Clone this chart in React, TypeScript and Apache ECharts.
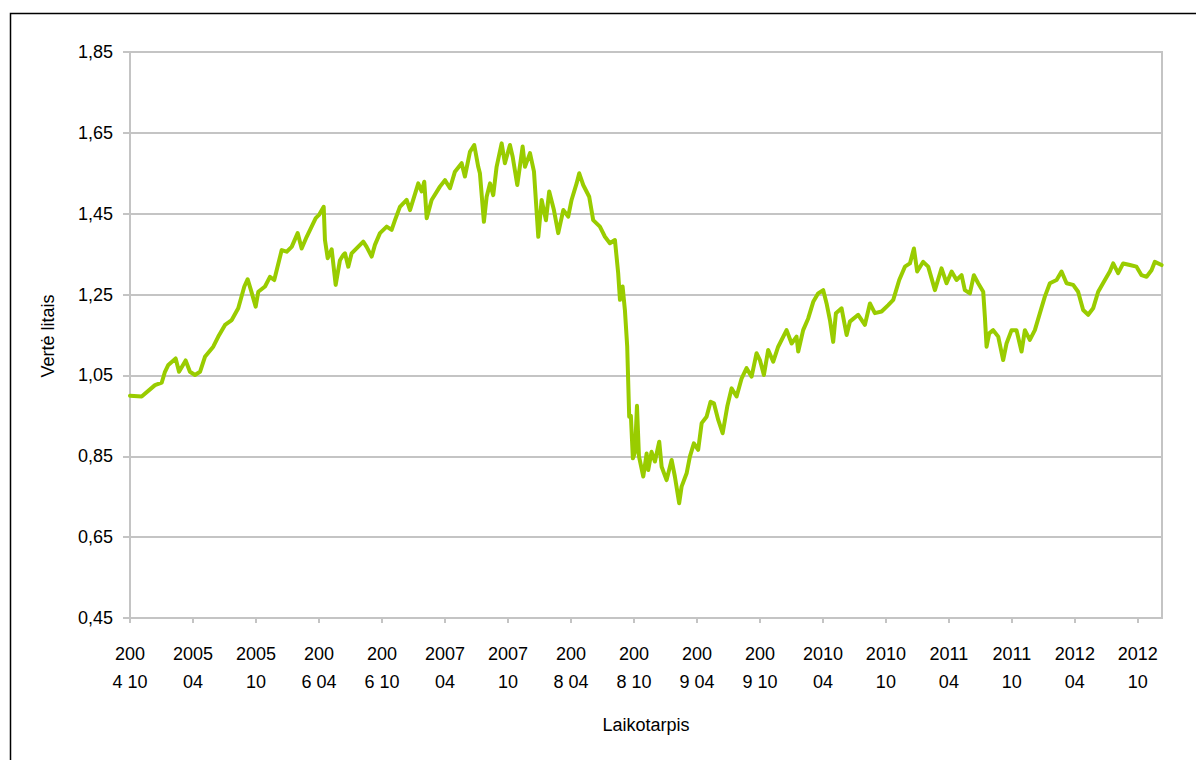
import React, { useEffect, useRef } from "react";
import * as echarts from "echarts";

// Months elapsed since 2004-10 (x position) and fund value in litas
const monthOffsets: number[] = [
  0, 1.11, 2.38, 3.02, 3.33, 3.65, 4.35, 4.67, 5.3, 5.71, 6.19, 6.67, 7.14, 7.93, 8.41, 9.05, 9.69, 10.31,
  10.89, 11.21, 11.52, 11.97, 12.22, 12.86, 13.33, 13.74, 14.45, 14.92, 15.4, 15.97, 16.35, 16.83, 17.3,
  17.69, 18.0, 18.45, 18.57, 18.83, 19.21, 19.59, 20.0, 20.31, 20.48, 20.79, 21.11, 22.22, 22.54, 23.02,
  23.33, 23.81, 24.45, 24.92, 25.24, 25.71, 26.35, 26.67, 27.46, 27.78, 28.03, 28.26, 28.73, 29.52, 30.0,
  30.48, 30.95, 31.59, 31.9, 32.38, 32.79, 33.17, 33.33, 33.71, 33.97, 34.29, 34.6, 34.92, 35.4, 35.71,
  36.19, 36.45, 36.89, 37.4, 37.62, 38.1, 38.48, 38.89, 39.21, 39.62, 39.93, 40.38, 40.79, 41.27, 41.74,
  42.06, 42.54, 42.79, 43.17, 43.74, 44.12, 44.76, 45.24, 45.71, 46.19, 46.5, 46.67, 46.92, 47.14, 47.36,
  47.55, 47.71, 47.9, 48.1, 48.29, 48.48, 48.89, 49.21, 49.36, 49.68, 50.0, 50.41, 50.64, 51.11, 51.59,
  51.9, 52.31, 52.54, 53.02, 53.33, 53.71, 54.12, 54.45, 54.92, 55.3, 55.62, 56.03, 56.45, 56.89, 57.3,
  57.78, 58.26, 58.73, 59.21, 59.68, 60.0, 60.38, 60.79, 61.27, 61.74, 62.54, 63.02, 63.49, 63.65, 64.12,
  64.6, 65.08, 65.55, 66.03, 66.35, 66.67, 66.98, 67.24, 67.78, 68.26, 68.57, 69.36, 70.0, 70.48, 70.95,
  71.59, 72.22, 72.7, 73.27, 73.81, 74.29, 74.67, 74.98, 75.55, 76.03, 76.67, 77.3, 77.78, 78.26, 78.73,
  79.21, 79.52, 80.0, 80.38, 80.79, 81.27, 81.43, 81.59, 81.84, 82.22, 82.7, 83.17, 83.49, 83.97, 84.44,
  84.92, 85.24, 85.71, 86.19, 86.67, 87.14, 87.62, 88.26, 88.73, 89.21, 89.84, 90.31, 90.79, 91.27, 91.74,
  92.22, 92.86, 93.33, 93.65, 94.12, 94.6, 95.24, 95.87, 96.35, 96.83, 97.3, 97.62, 98.26,
];

const fundValues: number[] = [
  1.0, 0.998, 1.026, 1.032, 1.059, 1.076, 1.092, 1.059, 1.087, 1.059, 1.051, 1.059, 1.096, 1.121, 1.146, 1.175, 1.187, 1.216,
  1.27, 1.288, 1.261, 1.22, 1.257, 1.27, 1.294, 1.286, 1.36, 1.356, 1.368, 1.402, 1.364, 1.393, 1.418,
  1.439, 1.447, 1.467, 1.385, 1.34, 1.362, 1.274, 1.335, 1.348, 1.352, 1.319, 1.352, 1.381, 1.368, 1.344,
  1.373, 1.402, 1.418, 1.41, 1.434, 1.467, 1.484, 1.459, 1.525, 1.505, 1.529, 1.439, 1.484, 1.517, 1.533,
  1.513, 1.554, 1.575, 1.542, 1.603, 1.62, 1.566, 1.55, 1.43, 1.492, 1.525, 1.496, 1.566, 1.624, 1.575,
  1.62, 1.591, 1.521, 1.616, 1.566, 1.6, 1.554, 1.393, 1.484, 1.434, 1.505, 1.459, 1.402, 1.459, 1.443,
  1.484, 1.525, 1.55, 1.521, 1.492, 1.434, 1.418, 1.393, 1.377, 1.385, 1.303, 1.237, 1.27, 1.212, 1.121,
  0.948, 0.95, 0.845, 0.86, 0.975, 0.85, 0.8, 0.857, 0.816, 0.861, 0.837, 0.886, 0.824, 0.791, 0.841,
  0.8, 0.734, 0.775, 0.808, 0.849, 0.882, 0.866, 0.932, 0.948, 0.985, 0.981, 0.94, 0.907, 0.973, 1.018,
  0.998, 1.043, 1.068, 1.047, 1.105, 1.088, 1.051, 1.113, 1.084, 1.121, 1.162, 1.129, 1.146, 1.109, 1.162,
  1.191, 1.232, 1.253, 1.261, 1.228, 1.187, 1.133, 1.204, 1.216, 1.15, 1.183, 1.2, 1.175, 1.228, 1.204,
  1.208, 1.224, 1.237, 1.286, 1.319, 1.327, 1.364, 1.307, 1.331, 1.319, 1.261, 1.315, 1.278, 1.307, 1.286,
  1.298, 1.261, 1.253, 1.298, 1.278, 1.257, 1.195, 1.121, 1.154, 1.162, 1.146, 1.088, 1.129, 1.162, 1.162,
  1.109, 1.162, 1.138, 1.162, 1.204, 1.245, 1.278, 1.286, 1.307, 1.278, 1.274, 1.257, 1.212, 1.2, 1.216,
  1.257, 1.286, 1.307, 1.327, 1.303, 1.327, 1.323, 1.319, 1.298, 1.294, 1.31, 1.331, 1.323,
];

const xTickLabels: string[] = [
  "200\n4 10", "2005\n04", "2005\n10", "200\n6 04", "200\n6 10", "2007\n04", "2007\n10", "200\n8 04",
  "200\n8 10", "200\n9 04", "200\n9 10", "2010\n04", "2010\n10", "2011\n04", "2011\n10", "2012\n04", "2012\n10",
];

const yAxisTitle = "Vertė litais";
const xAxisTitle = "Laikotarpis";

const FONT = "'Liberation Sans', Arial, sans-serif";

export default function App() {
  const ref = useRef<HTMLDivElement>(null);

  useEffect(() => {
    if (!ref.current) return;
    const chart = echarts.init(ref.current, undefined, { renderer: "svg" });
    const seriesData = monthOffsets.map((m, i) => [m, fundValues[i]]);
    chart.setOption({
      animation: false,
      backgroundColor: "#ffffff",
      textStyle: { fontFamily: FONT },
      grid: {
        left: 130,
        right: 34,
        top: 52,
        bottom: 142,
        show: true,
        borderColor: "#c4c4c4",
        borderWidth: 2,
        backgroundColor: "transparent",
      },
      xAxis: {
        type: "value",
        min: 0,
        max: 98.3,
        interval: 6,
        axisLine: { show: true, lineStyle: { color: "#c4c4c4", width: 2 } },
        axisTick: { show: true, inside: false, length: 5, lineStyle: { color: "#c4c4c4", width: 2 } },
        splitLine: { show: false },
        axisLabel: {
          show: true,
          showMaxLabel: false,
          margin: 22,
          color: "#000",
          fontFamily: FONT,
          fontSize: 18,
          lineHeight: 28,
          align: "center",
          formatter: (v: number) => {
            const i = Math.round(v / 6);
            return xTickLabels[i] ?? "";
          },
        },
      },
      yAxis: {
        type: "value",
        min: 0.45,
        max: 1.85,
        interval: 0.2,
        axisLine: { show: true, lineStyle: { color: "#c4c4c4", width: 2 } },
        axisTick: { show: true, inside: false, length: 7, lineStyle: { color: "#c4c4c4", width: 2 } },
        splitLine: { show: true, lineStyle: { color: "#c4c4c4", width: 2 } },
        axisLabel: {
          margin: 17,
          color: "#000",
          fontFamily: FONT,
          fontSize: 18,
          formatter: (v: number) => v.toFixed(2).replace(".", ","),
        },
      },
      graphic: [
        {
          type: "rect",
          left: 8,
          top: 11,
          shape: { x: 0, y: 0, width: 1200, height: 800 },
          style: { fill: "none", stroke: "#000", lineWidth: 1.5 },
          silent: true,
          z: 100,
        },
        {
          type: "text",
          x: 48,
          y: 336,
          rotation: Math.PI / 2,
          style: {
            text: yAxisTitle,
            fill: "#000",
            font: `18px ${FONT}`,
            textAlign: "center",
            textVerticalAlign: "middle",
          },
        },
        {
          type: "text",
          x: 646,
          y: 725,
          style: {
            text: xAxisTitle,
            fill: "#000",
            font: `18px ${FONT}`,
            textAlign: "center",
            textVerticalAlign: "middle",
          },
        },
      ],
      series: [
        {
          type: "line",
          data: seriesData,
          showSymbol: false,
          symbol: "none",
          lineStyle: { color: "#99cc00", width: 4, join: "round", cap: "round" },
          z: 5,
        },
      ],
    });
    return () => chart.dispose();
  }, []);

  return (
    <div
      ref={ref}
      style={{ position: "absolute", left: 0, top: 0, width: 1196, height: 760, background: "#fff" }}
    />
  );
}
